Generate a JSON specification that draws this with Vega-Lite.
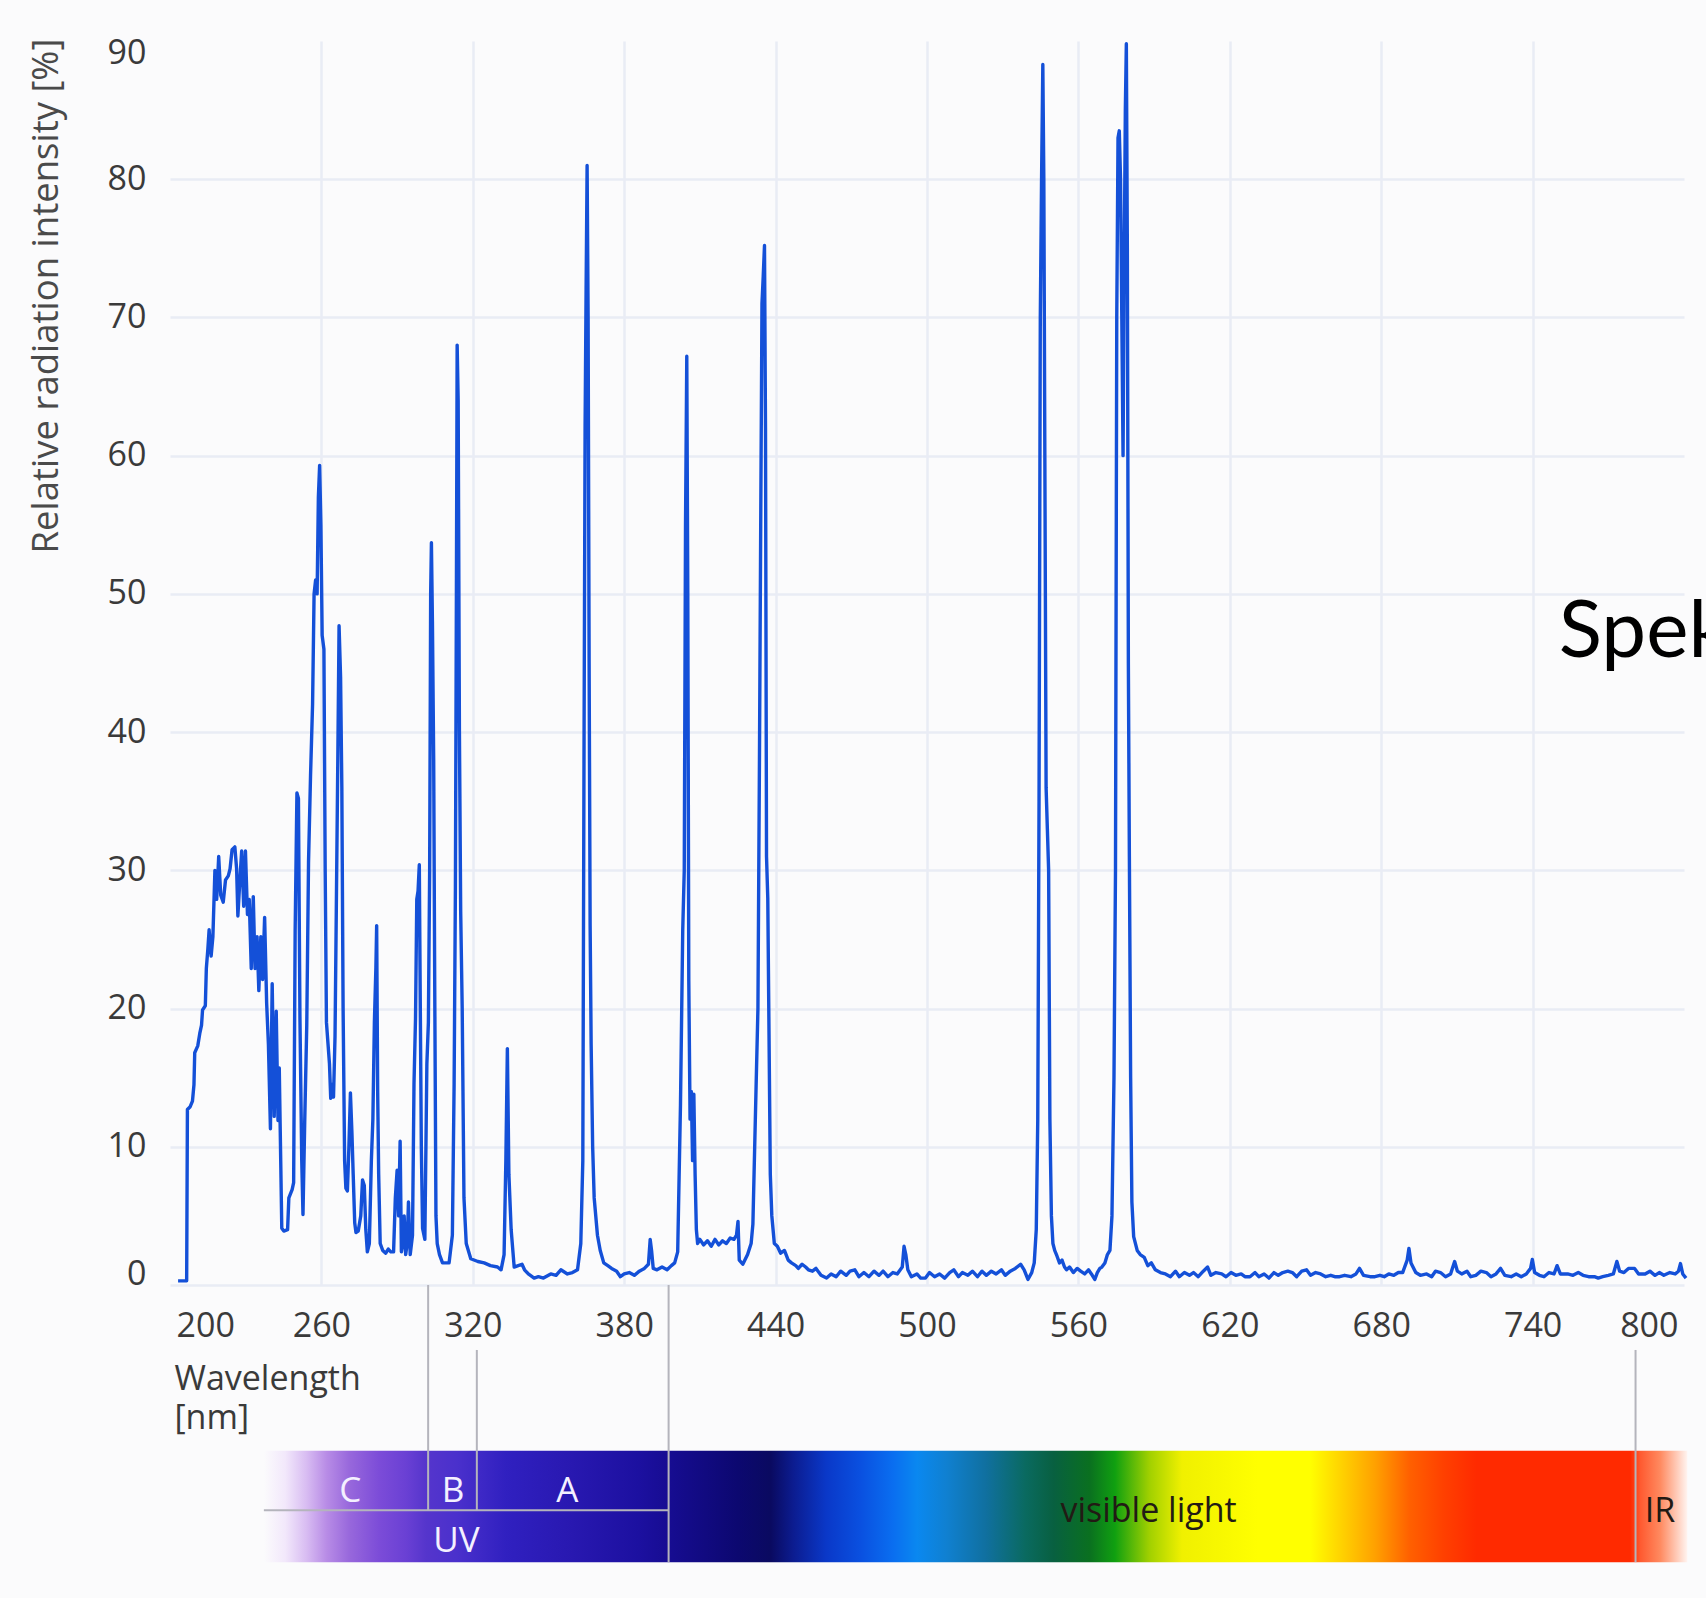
{
  "$schema": "https://vega.github.io/schema/vega-lite/v6.json",
  "width": 1514,
  "height": 1244,
  "autosize": {"type": "none"},
  "padding": {"left": 170, "top": 41, "right": 22, "bottom": 313},
  "background": "#fbfbfc",
  "config": {"view": {"stroke": null}, "font": "Open Sans"},
  "datasets": {
    "spectrum": [
      {"nm":203.2,"v":0.3},{"nm":206.6,"v":0.3},{"nm":206.9,"v":12.7},{"nm":208.0,"v":12.9},{"nm":208.9,"v":13.3},{"nm":209.5,"v":14.5},{"nm":209.8,"v":16.8},{"nm":211.0,"v":17.3},{"nm":211.8,"v":18.2},{"nm":212.5,"v":18.8},{"nm":212.9,"v":19.9},{"nm":214.0,"v":20.2},{"nm":214.4,"v":22.9},{"nm":215.0,"v":24.3},{"nm":215.5,"v":25.7},{"nm":216.3,"v":23.8},{"nm":217.0,"v":25.2},{"nm":217.8,"v":30.0},{"nm":218.5,"v":27.9},{"nm":219.3,"v":31.0},{"nm":220.1,"v":28.2},{"nm":221.1,"v":27.7},{"nm":222.0,"v":29.3},{"nm":223.1,"v":29.6},{"nm":223.8,"v":30.1},{"nm":224.6,"v":31.5},{"nm":225.7,"v":31.7},{"nm":226.4,"v":30.1},{"nm":226.9,"v":26.7},{"nm":227.6,"v":29.0},{"nm":228.4,"v":31.4},{"nm":229.2,"v":27.4},{"nm":229.9,"v":31.4},{"nm":230.7,"v":26.8},{"nm":231.4,"v":27.9},{"nm":232.2,"v":22.9},{"nm":233.0,"v":28.1},{"nm":233.7,"v":22.9},{"nm":234.5,"v":25.2},{"nm":235.2,"v":21.3},{"nm":236.0,"v":25.2},{"nm":236.7,"v":22.1},{"nm":237.5,"v":26.6},{"nm":238.3,"v":20.4},{"nm":239.0,"v":17.4},{"nm":239.8,"v":11.3},{"nm":240.5,"v":21.8},{"nm":241.3,"v":12.2},{"nm":242.1,"v":19.8},{"nm":242.8,"v":11.9},{"nm":243.3,"v":15.7},{"nm":244.3,"v":4.1},{"nm":245.1,"v":3.9},{"nm":246.6,"v":4.0},{"nm":247.1,"v":6.3},{"nm":248.4,"v":6.9},{"nm":249.0,"v":7.4},{"nm":249.6,"v":25.7},{"nm":250.3,"v":35.6},{"nm":250.9,"v":35.2},{"nm":251.5,"v":19.3},{"nm":252.2,"v":9.1},{"nm":252.7,"v":5.1},{"nm":253.4,"v":11.9},{"nm":254.2,"v":18.8},{"nm":254.9,"v":30.6},{"nm":255.7,"v":36.9},{"nm":256.5,"v":42},{"nm":257.1,"v":50},{"nm":257.7,"v":51},{"nm":258.3,"v":50},{"nm":258.8,"v":57},{"nm":259.3,"v":59.3},{"nm":259.8,"v":55},{"nm":260.3,"v":47},{"nm":261.0,"v":46},{"nm":261.5,"v":30},{"nm":262.0,"v":19},{"nm":262.6,"v":17.5},{"nm":263.2,"v":16},{"nm":263.7,"v":13.5},{"nm":264.3,"v":14.5},{"nm":264.8,"v":13.6},{"nm":265.4,"v":18},{"nm":265.9,"v":27},{"nm":266.5,"v":38},{"nm":267.0,"v":47.7},{"nm":267.6,"v":44},{"nm":268.1,"v":36},{"nm":268.6,"v":20},{"nm":269.2,"v":9},{"nm":269.7,"v":7},{"nm":270.3,"v":6.8},{"nm":270.9,"v":10},{"nm":271.5,"v":13.9},{"nm":272.1,"v":11},{"nm":272.6,"v":8},{"nm":273.2,"v":4.5},{"nm":273.7,"v":3.8},{"nm":274.6,"v":3.9},{"nm":275.6,"v":5},{"nm":276.3,"v":7.6},{"nm":277.0,"v":7.2},{"nm":277.6,"v":4},{"nm":278.2,"v":2.4},{"nm":279.0,"v":3},{"nm":279.8,"v":9},{"nm":280.4,"v":12},{"nm":281.0,"v":19},{"nm":281.6,"v":23},{"nm":281.9,"v":26},{"nm":282.3,"v":14},{"nm":282.7,"v":8},{"nm":283.3,"v":3},{"nm":284.3,"v":2.5},{"nm":285.5,"v":2.3},{"nm":286.5,"v":2.6},{"nm":287.5,"v":2.4},{"nm":288.6,"v":2.4},{"nm":289.3,"v":6.3},{"nm":290.0,"v":8.3},{"nm":290.6,"v":5},{"nm":291.2,"v":10.4},{"nm":291.7,"v":2.4},{"nm":292.3,"v":3},{"nm":292.8,"v":5},{"nm":293.4,"v":2.2},{"nm":294.0,"v":3},{"nm":294.5,"v":6},{"nm":295.2,"v":2.2},{"nm":296.1,"v":3.6},{"nm":296.7,"v":14.6},{"nm":297.3,"v":19.3},{"nm":297.8,"v":27.9},{"nm":298.3,"v":28.5},{"nm":298.8,"v":30.4},{"nm":299.2,"v":20},{"nm":299.6,"v":10},{"nm":300.1,"v":4.1},{"nm":301.0,"v":3.3},{"nm":301.8,"v":16},{"nm":302.4,"v":19},{"nm":302.9,"v":30},{"nm":303.3,"v":50},{"nm":303.6,"v":53.7},{"nm":304.0,"v":48},{"nm":304.5,"v":38},{"nm":304.9,"v":22},{"nm":305.4,"v":5},{"nm":305.9,"v":3},{"nm":306.8,"v":2.2},{"nm":308.0,"v":1.6},{"nm":310.6,"v":1.6},{"nm":311.9,"v":3.6},{"nm":312.6,"v":14.6},{"nm":313.1,"v":28.5},{"nm":313.5,"v":50},{"nm":313.8,"v":68},{"nm":314.2,"v":64},{"nm":314.7,"v":40},{"nm":315.2,"v":27},{"nm":315.8,"v":20},{"nm":316.5,"v":6.3},{"nm":317.4,"v":3},{"nm":319.2,"v":1.9},{"nm":322,"v":1.7},{"nm":324.5,"v":1.6},{"nm":327,"v":1.4},{"nm":329.8,"v":1.3},{"nm":331.2,"v":1.1},{"nm":332.4,"v":2.2},{"nm":333.1,"v":9},{"nm":333.7,"v":17.1},{"nm":334.3,"v":8},{"nm":335.2,"v":4},{"nm":336.4,"v":1.3},{"nm":338,"v":1.4},{"nm":339.5,"v":1.5},{"nm":340.5,"v":1.1},{"nm":342,"v":0.8},{"nm":344.3,"v":0.5},{"nm":346,"v":0.6},{"nm":348,"v":0.5},{"nm":350.9,"v":0.8},{"nm":353,"v":0.7},{"nm":354.9,"v":1.1},{"nm":357.5,"v":0.8},{"nm":359.5,"v":0.9},{"nm":361.5,"v":1.1},{"nm":362.8,"v":3},{"nm":363.6,"v":9},{"nm":364.1,"v":40},{"nm":364.5,"v":62},{"nm":364.9,"v":72},{"nm":365.3,"v":81},{"nm":365.7,"v":70},{"nm":366.1,"v":45},{"nm":366.5,"v":26},{"nm":366.9,"v":17.4},{"nm":367.5,"v":10},{"nm":368.1,"v":6.3},{"nm":369.4,"v":3.6},{"nm":370.5,"v":2.5},{"nm":371.9,"v":1.6},{"nm":373.5,"v":1.4},{"nm":375,"v":1.2},{"nm":377,"v":1.0},{"nm":378.5,"v":0.6},{"nm":380,"v":0.8},{"nm":382,"v":0.9},{"nm":384,"v":0.7},{"nm":386,"v":1.0},{"nm":388,"v":1.2},{"nm":389.6,"v":1.5},{"nm":390.3,"v":3.3},{"nm":390.9,"v":2.4},{"nm":391.5,"v":1.2},{"nm":393,"v":1.1},{"nm":395,"v":1.3},{"nm":397,"v":1.1},{"nm":398.7,"v":1.4},{"nm":400,"v":1.6},{"nm":401.2,"v":2.4},{"nm":402.3,"v":13},{"nm":403.2,"v":25.7},{"nm":403.8,"v":30},{"nm":404.3,"v":55},{"nm":404.8,"v":67.2},{"nm":405.2,"v":50},{"nm":405.6,"v":22},{"nm":406.1,"v":12},{"nm":406.6,"v":14},{"nm":407.1,"v":9},{"nm":407.6,"v":13.8},{"nm":408.1,"v":8},{"nm":408.6,"v":4},{"nm":409.1,"v":3},{"nm":410,"v":3.3},{"nm":411.5,"v":2.9},{"nm":413,"v":3.2},{"nm":414.5,"v":2.8},{"nm":416,"v":3.3},{"nm":417.5,"v":2.9},{"nm":419,"v":3.2},{"nm":420.5,"v":3.0},{"nm":422,"v":3.4},{"nm":423.5,"v":3.3},{"nm":424.5,"v":3.6},{"nm":425.1,"v":4.6},{"nm":425.6,"v":1.8},{"nm":427,"v":1.5},{"nm":428.9,"v":2.2},{"nm":430.3,"v":3.0},{"nm":431.0,"v":4.4},{"nm":432.3,"v":14.6},{"nm":433.0,"v":20},{"nm":433.6,"v":38},{"nm":434.1,"v":55},{"nm":434.6,"v":71},{"nm":435.1,"v":73},{"nm":435.6,"v":75.2},{"nm":436.0,"v":62},{"nm":436.4,"v":31},{"nm":436.9,"v":28},{"nm":437.3,"v":20},{"nm":437.9,"v":8},{"nm":438.5,"v":5},{"nm":439.5,"v":3},{"nm":440.7,"v":2.8},{"nm":442,"v":2.3},{"nm":443.5,"v":2.5},{"nm":445,"v":1.8},{"nm":446.3,"v":1.6},{"nm":448,"v":1.4},{"nm":449,"v":1.2},{"nm":450.5,"v":1.5},{"nm":451.9,"v":1.3},{"nm":453,"v":1.1},{"nm":454.6,"v":1.0},{"nm":456,"v":1.2},{"nm":458,"v":0.7},{"nm":460.2,"v":0.5},{"nm":462,"v":0.8},{"nm":464,"v":0.6},{"nm":465.8,"v":1.0},{"nm":468,"v":0.7},{"nm":469.5,"v":1.0},{"nm":471.4,"v":1.1},{"nm":473,"v":0.6},{"nm":475,"v":0.9},{"nm":477,"v":0.6},{"nm":479,"v":1.0},{"nm":481,"v":0.7},{"nm":482.6,"v":1.0},{"nm":484.5,"v":0.6},{"nm":486.5,"v":0.9},{"nm":488.2,"v":0.8},{"nm":490.2,"v":1.3},{"nm":490.9,"v":2.8},{"nm":491.6,"v":2.2},{"nm":492.4,"v":1.1},{"nm":493.8,"v":0.6},{"nm":496,"v":0.8},{"nm":497.5,"v":0.5},{"nm":499.4,"v":0.5},{"nm":501,"v":0.9},{"nm":503,"v":0.6},{"nm":505,"v":0.8},{"nm":507,"v":0.5},{"nm":509,"v":0.9},{"nm":510.6,"v":1.1},{"nm":512.5,"v":0.6},{"nm":514,"v":0.9},{"nm":516.2,"v":0.7},{"nm":518,"v":1.0},{"nm":520,"v":0.6},{"nm":521.8,"v":1.0},{"nm":523.5,"v":0.7},{"nm":525.5,"v":1.0},{"nm":527.4,"v":0.8},{"nm":529.5,"v":1.1},{"nm":531,"v":0.7},{"nm":533,"v":1.0},{"nm":535,"v":1.2},{"nm":537.1,"v":1.5},{"nm":538.5,"v":1.1},{"nm":540,"v":0.4},{"nm":541.5,"v":0.9},{"nm":542.5,"v":1.6},{"nm":543.3,"v":4},{"nm":543.9,"v":12},{"nm":544.4,"v":35},{"nm":544.9,"v":70},{"nm":545.4,"v":80},{"nm":545.9,"v":88.3},{"nm":546.3,"v":80},{"nm":546.7,"v":60},{"nm":547.2,"v":36},{"nm":547.7,"v":33},{"nm":548.2,"v":30},{"nm":548.7,"v":12},{"nm":549.3,"v":5},{"nm":549.9,"v":3},{"nm":550.6,"v":2.5},{"nm":551.5,"v":2.1},{"nm":552.5,"v":1.6},{"nm":553.5,"v":1.8},{"nm":554.5,"v":1.3},{"nm":555.3,"v":1.1},{"nm":556.5,"v":1.3},{"nm":558,"v":0.9},{"nm":559.5,"v":1.2},{"nm":560.9,"v":1.0},{"nm":562.5,"v":0.8},{"nm":564,"v":1.1},{"nm":565.5,"v":0.7},{"nm":566.5,"v":0.4},{"nm":567.5,"v":0.9},{"nm":568.5,"v":1.2},{"nm":569.3,"v":1.3},{"nm":570.5,"v":1.6},{"nm":571.5,"v":2.2},{"nm":572.5,"v":2.5},{"nm":573.3,"v":5},{"nm":574.1,"v":15},{"nm":574.7,"v":30},{"nm":575.2,"v":70},{"nm":575.7,"v":83},{"nm":576.2,"v":83.5},{"nm":576.7,"v":80},{"nm":577.2,"v":70},{"nm":577.7,"v":60},{"nm":578.2,"v":75},{"nm":578.6,"v":85},{"nm":579.0,"v":89.8},{"nm":579.4,"v":75},{"nm":579.8,"v":45},{"nm":580.2,"v":31},{"nm":580.7,"v":15},{"nm":581.2,"v":6},{"nm":581.9,"v":3.5},{"nm":583.3,"v":2.5},{"nm":584.5,"v":2.2},{"nm":586.1,"v":2.0},{"nm":587.5,"v":1.4},{"nm":588.9,"v":1.6},{"nm":590.5,"v":1.1},{"nm":592.5,"v":0.9},{"nm":594.5,"v":0.8},{"nm":596.5,"v":0.6},{"nm":598.5,"v":1.0},{"nm":600,"v":0.6},{"nm":602,"v":0.9},{"nm":604,"v":0.7},{"nm":605.6,"v":0.9},{"nm":607.5,"v":0.6},{"nm":609.5,"v":1.0},{"nm":611.2,"v":1.3},{"nm":612.5,"v":0.7},{"nm":614.5,"v":0.9},{"nm":616.8,"v":0.8},{"nm":618.5,"v":0.6},{"nm":620.5,"v":0.9},{"nm":622.4,"v":0.7},{"nm":624.5,"v":0.8},{"nm":626,"v":0.6},{"nm":628,"v":0.6},{"nm":630,"v":0.9},{"nm":631.5,"v":0.6},{"nm":633.6,"v":0.8},{"nm":635.5,"v":0.5},{"nm":637.5,"v":0.9},{"nm":639.2,"v":0.7},{"nm":641,"v":0.9},{"nm":643,"v":1.0},{"nm":644.8,"v":0.9},{"nm":646.5,"v":0.6},{"nm":648.5,"v":1.0},{"nm":650.4,"v":1.1},{"nm":652,"v":0.7},{"nm":654,"v":0.9},{"nm":656,"v":0.8},{"nm":658,"v":0.6},{"nm":660,"v":0.7},{"nm":661.6,"v":0.6},{"nm":663.5,"v":0.6},{"nm":665.5,"v":0.7},{"nm":668,"v":0.6},{"nm":670,"v":0.8},{"nm":671.4,"v":1.2},{"nm":673,"v":0.7},{"nm":675.6,"v":0.6},{"nm":677.5,"v":0.6},{"nm":679.5,"v":0.7},{"nm":681.2,"v":0.6},{"nm":683,"v":0.8},{"nm":685,"v":0.7},{"nm":686.8,"v":0.9},{"nm":688.5,"v":0.9},{"nm":690.3,"v":1.8},{"nm":691.0,"v":2.65},{"nm":691.8,"v":1.6},{"nm":693.7,"v":0.9},{"nm":695.5,"v":0.7},{"nm":698,"v":0.8},{"nm":700,"v":0.6},{"nm":701.5,"v":1.0},{"nm":703.5,"v":0.9},{"nm":705.5,"v":0.6},{"nm":707.5,"v":0.8},{"nm":709.1,"v":1.7},{"nm":710.2,"v":1.0},{"nm":711.9,"v":0.8},{"nm":714,"v":1.0},{"nm":715.5,"v":0.6},{"nm":717.5,"v":0.7},{"nm":719.5,"v":1.0},{"nm":721.7,"v":0.9},{"nm":723.5,"v":0.6},{"nm":725.5,"v":0.8},{"nm":727.3,"v":1.2},{"nm":729,"v":0.7},{"nm":731.5,"v":0.6},{"nm":733.5,"v":0.8},{"nm":735.5,"v":0.6},{"nm":737.5,"v":0.8},{"nm":739.2,"v":1.2},{"nm":739.9,"v":1.85},{"nm":740.8,"v":0.9},{"nm":742.7,"v":0.7},{"nm":744.5,"v":0.6},{"nm":746.5,"v":0.9},{"nm":748.5,"v":0.8},{"nm":749.7,"v":1.4},{"nm":751,"v":0.8},{"nm":753.9,"v":0.8},{"nm":756,"v":0.7},{"nm":758.1,"v":0.9},{"nm":760,"v":0.7},{"nm":762.2,"v":0.6},{"nm":764.5,"v":0.6},{"nm":766,"v":0.5},{"nm":767.8,"v":0.6},{"nm":770,"v":0.7},{"nm":772,"v":0.8},{"nm":773.4,"v":1.7},{"nm":774.5,"v":1.0},{"nm":776.2,"v":0.9},{"nm":778,"v":1.2},{"nm":780.4,"v":1.2},{"nm":782,"v":0.8},{"nm":784.6,"v":0.8},{"nm":786.5,"v":1.0},{"nm":788.5,"v":0.7},{"nm":790.2,"v":0.9},{"nm":792,"v":0.7},{"nm":794.4,"v":0.9},{"nm":796.5,"v":0.8},{"nm":797.8,"v":1.0},{"nm":798.6,"v":1.55},{"nm":799.5,"v":0.8},{"nm":800.8,"v":0.5}
    ],
    "band": [{"nm": 237.2, "nm2": 801.3, "v": -12.0, "v2": -20.05}],
    "dividers": [
      {"nm": 302.3, "nm2": 302.3, "v": 0, "v2": -16.3},
      {"nm": 321.6, "nm2": 321.6, "v": -4.7, "v2": -16.3},
      {"nm": 397.6, "nm2": 397.6, "v": 0, "v2": -20.05},
      {"nm": 780.8, "nm2": 780.8, "v": -4.7, "v2": -20.05},
      {"nm": 237.2, "nm2": 397.6, "v": -16.3, "v2": -16.3}
    ],
    "uvLabels": [
      {"t": "C", "nm": 271.4, "v": -15.68},
      {"t": "B", "nm": 312.2, "v": -15.68},
      {"t": "A", "nm": 357.5, "v": -15.68},
      {"t": "UV", "nm": 313.5, "v": -19.3}
    ],
    "darkLabels": [
      {"t": "visible light", "nm": 587.8, "v": -17.13},
      {"t": "IR", "nm": 790.5, "v": -17.13}
    ],
    "heading": [{"t": "Spektrum", "nm": 750.4, "v": 45.44}]
  },
  "encoding": {
    "x": {
      "field": "nm", "type": "quantitative",
      "scale": {"domain": [200, 800], "nice": false, "zero": false},
      "axis": {
        "values": [200, 260, 320, 380, 440, 500, 560, 620, 680, 740, 800],
        "labelFlush": true, "labelOverlap": false,
        "labelOffset": {"condition": [{"test": "datum.value == 200", "value": 6}, {"test": "datum.value == 800", "value": -6}], "value": 0},
        "grid": true, "gridColor": "#e9ecf5", "gridWidth": 2.5,
        "gridOpacity": {"condition": {"test": "datum.value == 200 || datum.value == 800", "value": 0}, "value": 1},
        "ticks": false, "domain": false,
        "labelPadding": 24, "labelFontSize": 34, "labelColor": "#3a3a3a", "labelFont": "Open Sans",
        "title": ["Wavelength", "[nm]"],
        "titleFont": "Open Sans", "titleFontSize": 34, "titleFontWeight": "normal", "titleColor": "#3a3a3a",
        "titleAlign": "left", "titleAnchor": "start", "titleBaseline": "top",
        "titleX": 4, "titleY": 77, "titleLineHeight": 39
      }
    },
    "y": {
      "field": "v", "type": "quantitative",
      "scale": {"domain": [0, 90], "nice": false, "zero": false},
      "axis": {
        "values": [0, 10, 20, 30, 40, 50, 60, 70, 80, 90],
        "labelOffset": {"condition": [{"test": "datum.value == 0", "value": -11}, {"test": "datum.value == 90", "value": 12}], "value": 0},
        "grid": true, "gridColor": "#e9ecf5", "gridWidth": 2.5,
        "gridOpacity": {"condition": {"test": "datum.value == 90", "value": 0}, "value": 1},
        "ticks": false, "domain": false,
        "labelPadding": 24, "labelFontSize": 34, "labelColor": "#3a3a3a", "labelFont": "Open Sans",
        "title": "Relative radiation intensity [%]",
        "titleFont": "Open Sans", "titleFontSize": 36.5, "titleFontWeight": "normal", "titleColor": "#4a4a4a",
        "titleAngle": 270, "titleAlign": "right", "titleAnchor": "end", "titleBaseline": "middle",
        "titleX": -124, "titleY": -3
      }
    }
  },
  "layer": [
    {
      "data": {"name": "spectrum"},
      "mark": {"type": "line", "color": "#1450d8", "strokeWidth": 3.4, "strokeJoin": "round"}
    },
    {
      "data": {"name": "band"},
      "mark": {
        "type": "rect",
        "color": {
          "gradient": "linear", "x1": 0, "y1": 0, "x2": 1, "y2": 0,
          "stops": [
            {"offset": 0.000, "color": "#fbfbfc"},
            {"offset": 0.015, "color": "#f2e8fb"},
            {"offset": 0.030, "color": "#d8bcf2"},
            {"offset": 0.044, "color": "#b88ce6"},
            {"offset": 0.060, "color": "#9868dc"},
            {"offset": 0.081, "color": "#7c4cd8"},
            {"offset": 0.100, "color": "#6a40d4"},
            {"offset": 0.114, "color": "#5535cc"},
            {"offset": 0.136, "color": "#4a30cc"},
            {"offset": 0.170, "color": "#3020c0"},
            {"offset": 0.217, "color": "#2818b0"},
            {"offset": 0.263, "color": "#1c10a0"},
            {"offset": 0.287, "color": "#160c90"},
            {"offset": 0.333, "color": "#0c0870"},
            {"offset": 0.356, "color": "#0a0a60"},
            {"offset": 0.372, "color": "#0c1c90"},
            {"offset": 0.395, "color": "#0a38c8"},
            {"offset": 0.419, "color": "#0a50e0"},
            {"offset": 0.442, "color": "#0a6ef0"},
            {"offset": 0.459, "color": "#0a88f0"},
            {"offset": 0.480, "color": "#1080d0"},
            {"offset": 0.507, "color": "#1070a0"},
            {"offset": 0.535, "color": "#0a6a60"},
            {"offset": 0.555, "color": "#086040"},
            {"offset": 0.580, "color": "#0a7020"},
            {"offset": 0.598, "color": "#10a010"},
            {"offset": 0.622, "color": "#a0d000"},
            {"offset": 0.645, "color": "#f0f000"},
            {"offset": 0.698, "color": "#ffff00"},
            {"offset": 0.735, "color": "#ffff00"},
            {"offset": 0.758, "color": "#ffd000"},
            {"offset": 0.781, "color": "#ffa000"},
            {"offset": 0.805, "color": "#ff6000"},
            {"offset": 0.829, "color": "#ff4000"},
            {"offset": 0.852, "color": "#ff2a00"},
            {"offset": 0.960, "color": "#ff2a00"},
            {"offset": 0.967, "color": "#ff5a30"},
            {"offset": 0.981, "color": "#ff8a60"},
            {"offset": 1.000, "color": "#fff4f0"}
          ]
        }
      },
      "encoding": {"x2": {"field": "nm2"}, "y2": {"field": "v2"}}
    },
    {
      "data": {"name": "dividers"},
      "mark": {"type": "rule", "color": "#b4b4bc", "strokeWidth": 2},
      "encoding": {"x2": {"field": "nm2"}, "y2": {"field": "v2"}}
    },
    {
      "data": {"name": "uvLabels"},
      "mark": {"type": "text", "font": "Open Sans", "fontSize": 35, "color": "#f4f0ff", "align": "center", "baseline": "alphabetic"},
      "encoding": {"text": {"field": "t"}}
    },
    {
      "data": {"name": "darkLabels"},
      "mark": {"type": "text", "font": "Open Sans", "fontSize": 34, "color": "#221a14", "align": "center", "baseline": "alphabetic"},
      "encoding": {"text": {"field": "t"}}
    },
    {
      "data": {"name": "heading"},
      "mark": {"type": "text", "font": "Lato", "fontSize": 80, "color": "#000000", "align": "left", "baseline": "alphabetic"},
      "encoding": {"text": {"field": "t"}}
    }
  ]
}
